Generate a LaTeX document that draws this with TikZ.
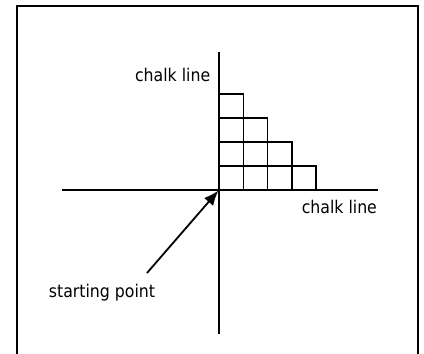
\documentclass[tikz,border=0pt]{standalone}
\usepackage{fontspec}
\setmainfont{DejaVu Sans Condensed}
\usetikzlibrary{arrows.meta}
\tikzset{chalktext/.style={font=\fontsize{17.5}{20}\selectfont, inner sep=1pt}}
\begin{document}
\begin{tikzpicture}[x=1pt, y=-1pt, line width=1.5pt]
    \useasboundingbox (0,0) rectangle (424,354);
    % Frame (bottom edge cut off)
    \draw[line width=1.6pt] (17,358) -- (17,6) -- (418,6) -- (418,358);

    % Chalk lines
    \draw (219,52) -- (219,334);
    \draw (62,190) -- (378,190);

    % Tiles, 4-3-2-1 from the bottom row
    \foreach \row/\n in {0/4,1/3,2/2,3/1}
        \foreach \col in {1,...,\n}
            \draw (219+24.25*\col-24.25, 190-24*\row) rectangle ++(24.25,-24);

    % Labels
    \node[chalktext, anchor=east] (vline) at (212,75) {chalk line};
    \node[chalktext, anchor=west] (hline) at (300,207) {chalk line};
    \node[chalktext] (start) at (102,293) {starting point};

    % Arrow to the starting point
    \coordinate (origin) at (218.5,190.5);
    \coordinate (tail) at (147,273);
    \draw[line width=1.8pt, -{Latex[length=15pt,width=12pt]}] (tail) -- (origin);
\end{tikzpicture}
\end{document}
